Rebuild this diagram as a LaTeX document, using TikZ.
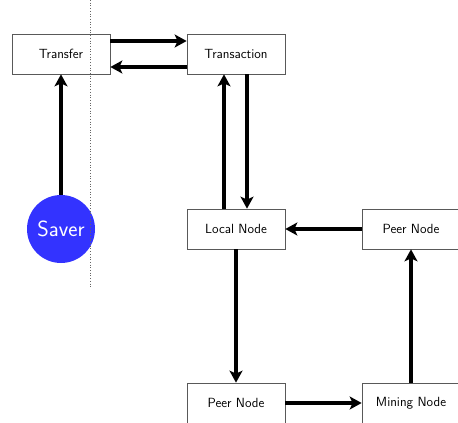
\documentclass[tikz,border=0pt]{standalone}
\usetikzlibrary{arrows.meta}
\begin{document}
\begin{tikzpicture}[x=1pt,y=-1pt,
  box/.style={draw=black!65,line width=0.7pt,fill=white,minimum width=98pt,minimum height=40pt,inner sep=0pt,font=\sffamily\fontsize{13.3}{15}\selectfont},
  flow/.style={line width=3.8pt,-{Stealth[length=12pt,width=13pt,inset=3pt]}},
  saverc/.style={circle,fill=saverblue,minimum size=68pt,inner sep=0pt,text=white,font=\sffamily\fontsize{22}{24}\selectfont}
]
\definecolor{saverblue}{RGB}{51,51,255}
\useasboundingbox (0,0) rectangle (458,423);
\node[box] (transfer) at (61,54) {Transfer};
\node[box] (transaction) at (236,54) {Transaction};
\node[box] (local) at (236,229) {Local Node};
\node[box] (peerr) at (411,229) {Peer Node};
\node[box] (peerb) at (236,403) {Peer Node};
\node[box] (mining) at (411,403) {Mining Node};
\node[saverc] (saver) at (61,229) {Saver};
\draw[flow] ([yshift=13pt]transfer.east) -- ([yshift=13pt]transaction.west);
\draw[flow] ([yshift=-13pt]transaction.west) -- ([yshift=-13pt]transfer.east);
\draw[flow] (saver) -- (transfer);
\draw[flow] ([xshift=11pt]transaction.south) -- ([xshift=11pt]local.north);
\draw[flow] ([xshift=-12pt]local.north) -- ([xshift=-12pt]transaction.south);
\draw[flow] (peerr) -- (local);
\draw[flow] (local) -- (peerb);
\draw[flow] (peerb) -- (mining);
\draw[flow] (mining) -- (peerr);
\coordinate (dtop) at (90.5,0);
\coordinate (dbot) at (90.5,287);
\draw[black!60,dotted,line width=0.7pt] (dtop) -- (dbot);
\end{tikzpicture}
\end{document}
